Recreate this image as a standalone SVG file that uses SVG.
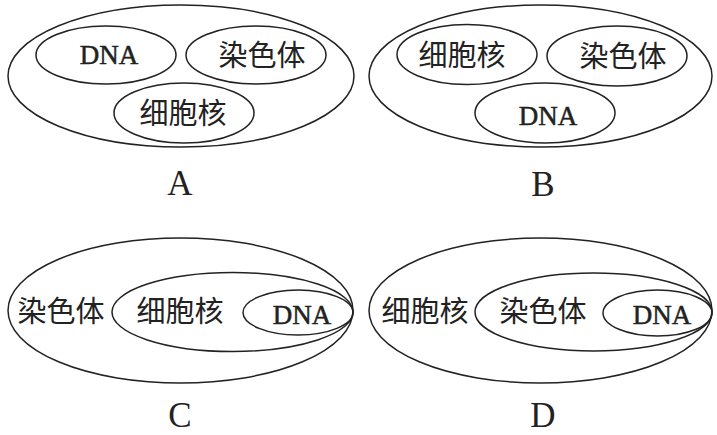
<svg xmlns="http://www.w3.org/2000/svg" width="717" height="435" viewBox="0 0 717 435">
<style>
.e{fill:none;stroke:#222;stroke-width:1.5}
.cn{font-family:"Noto Sans CJK SC","Noto Sans",sans-serif;font-size:29px;fill:#222;text-anchor:middle}
.en{font-family:"Liberation Serif",serif;font-size:27px;fill:#222;stroke:#222;stroke-width:0.5;text-anchor:middle}
.lb{font-family:"Liberation Serif",serif;font-size:35px;fill:#222;text-anchor:middle}
</style>
<rect width="717" height="435" fill="#fff"/>
<g id="panelA">
<g id="A-outer"><ellipse class="e" cx="181" cy="76" rx="173" ry="71"/></g>
<g id="A-dna"><ellipse class="e" cx="106" cy="55" rx="70" ry="29"/><text class="en" x="109" y="64">DNA</text></g>
<g id="A-chrom"><ellipse class="e" cx="256" cy="55" rx="70" ry="29"/><text class="cn" x="262" y="66">染色体</text></g>
<g id="A-nucleus"><ellipse class="e" cx="184" cy="113" rx="70" ry="30"/><text class="cn" x="183" y="124">细胞核</text></g>
<text class="lb" x="180" y="195">A</text>
</g>
<g id="panelB">
<g id="B-outer"><ellipse class="e" cx="540.5" cy="76" rx="171.5" ry="71"/></g>
<g id="B-nucleus"><ellipse class="e" cx="467" cy="54.5" rx="70" ry="30"/><text class="cn" x="462" y="66">细胞核</text></g>
<g id="B-chrom"><ellipse class="e" cx="617" cy="56" rx="70" ry="30"/><text class="cn" x="623" y="67">染色体</text></g>
<g id="B-dna"><ellipse class="e" cx="545" cy="113" rx="70" ry="30"/><text class="en" x="548" y="125">DNA</text></g>
<text class="lb" x="543" y="196">B</text>
</g>
<g id="panelC">
<g id="C-chrom"><ellipse class="e" cx="180.5" cy="310.5" rx="172.5" ry="72.5"/><text class="cn" x="61" y="322">染色体</text></g>
<g id="C-nucleus"><ellipse class="e" cx="232.5" cy="312" rx="120.5" ry="39.5"/><text class="cn" x="180" y="322">细胞核</text></g>
<g id="C-dna"><ellipse class="e" cx="298" cy="312.5" rx="55" ry="22.5"/><text class="en" x="302" y="324">DNA</text></g>
<text class="lb" x="180" y="427">C</text>
</g>
<g id="panelD">
<g id="D-nucleus"><ellipse class="e" cx="540.5" cy="310.5" rx="171.5" ry="72.5"/><text class="cn" x="425" y="322">细胞核</text></g>
<g id="D-chrom"><ellipse class="e" cx="593.5" cy="312" rx="118.5" ry="39"/><text class="cn" x="543" y="322">染色体</text></g>
<g id="D-dna"><ellipse class="e" cx="657.5" cy="313" rx="54.5" ry="23"/><text class="en" x="662" y="324">DNA</text></g>
<text class="lb" x="543" y="427">D</text>
</g>
<g id="connectors"/>
</svg>
